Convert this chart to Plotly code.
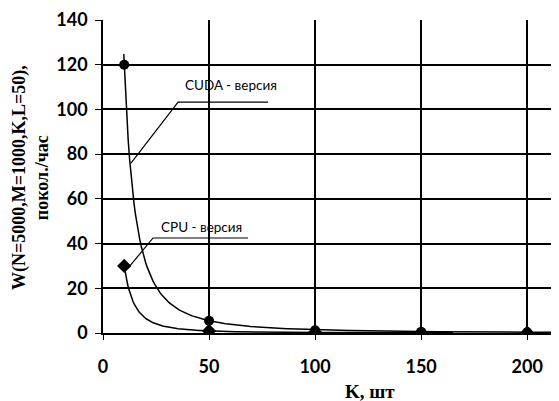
import numpy as np
import plotly.graph_objects as go

k_values = [10, 50, 100, 150, 200]
cuda_values = [120, 5.5, 1.2, 0.5, 0.3]
cpu_values = [30, 0.9, 0.3, 0.1, 0.05]
x_ticks = [0, 50, 100, 150, 200]
y_ticks = [0, 20, 40, 60, 80, 100, 120, 140]


def power_trend(xs, ys, x_from, x_to):
    # степенная линия тренда, как в Excel
    b, ln_a = np.polyfit(np.log(xs[:2]), np.log(ys[:2]), 1)
    xx = np.linspace(x_from, x_to, 300)
    return xx, np.exp(ln_a) * xx ** b


line = dict(color="black", width=1.5)
fig = go.Figure()

cx, cy = power_trend(k_values, cuda_values, 9.8, 215)
px_, py_ = power_trend(k_values, cpu_values, 10, 165)
fig.add_trace(go.Scatter(x=cx, y=cy, mode="lines", line=line, hoverinfo="skip"))
fig.add_trace(go.Scatter(x=px_, y=py_, mode="lines", line=line, hoverinfo="skip"))
fig.add_trace(go.Scatter(x=k_values, y=cpu_values, mode="markers",
                         marker=dict(symbol="diamond", size=11, color="black")))
fig.add_trace(go.Scatter(x=k_values, y=cuda_values, mode="markers",
                         marker=dict(symbol="circle", size=10, color="black")))

# выноски
fig.add_trace(go.Scatter(x=[13.2, 35.4, 77.8], y=[76, 103.3, 103.3], mode="lines",
                         line=dict(color="black", width=1.2), hoverinfo="skip"))
fig.add_trace(go.Scatter(x=[11.8, 23.6, 68.4], y=[29, 42.5, 42.5], mode="lines",
                         line=dict(color="black", width=1.2), hoverinfo="skip"))
fig.add_annotation(x=60.4, y=111, text="CUDA - версия", showarrow=False,
                   font=dict(family="Lato", size=13.5, color="black"))
fig.add_annotation(x=46.5, y=47.4, text="CPU - версия", showarrow=False,
                   font=dict(family="Lato", size=13.5, color="black"))

# подписи осей
fig.add_annotation(xref="paper", yref="paper", x=-0.16, y=0.495, textangle=-90,
                   xanchor="center", yanchor="middle",
                   text="<b>W(N=5000,M=1000,K,L=50),<br>покол./час</b>", showarrow=False,
                   font=dict(family="Liberation Serif", size=18, color="black"))
fig.add_annotation(xref="x", yref="paper", x=126, y=-0.186,
                   xanchor="center", yanchor="middle",
                   text="<b>K, шт</b>", showarrow=False,
                   font=dict(family="Liberation Serif", size=19, color="black"))

# страница открывается с отступом body 8px, поэтому поля уменьшены на 8
fig.update_layout(
    width=551, height=393,
    margin=dict(l=95, r=0, t=12, b=68),
    paper_bgcolor="white", plot_bgcolor="white",
    showlegend=False,
    font=dict(family="Lato", size=16, color="black"),
    xaxis=dict(range=[0, 215], tickvals=x_ticks, showgrid=True, gridcolor="black",
               gridwidth=1.5, zeroline=False, showline=True, linecolor="black",
               linewidth=1.5, ticks="outside", ticklen=5, tickcolor="black",
               ticklabelstandoff=12,
               tickfont=dict(family="Lato", size=18, weight="bold")),
    yaxis=dict(range=[0, 140], tickvals=y_ticks, showgrid=True, gridcolor="black",
               gridwidth=1.5, zeroline=False, showline=True, linecolor="black",
               linewidth=1.5, ticks="outside", ticklen=6, tickcolor="black",
               ticklabelstandoff=4,
               tickfont=dict(family="Lato", size=18, weight="bold")),
)

fig.write_html("out.html")
